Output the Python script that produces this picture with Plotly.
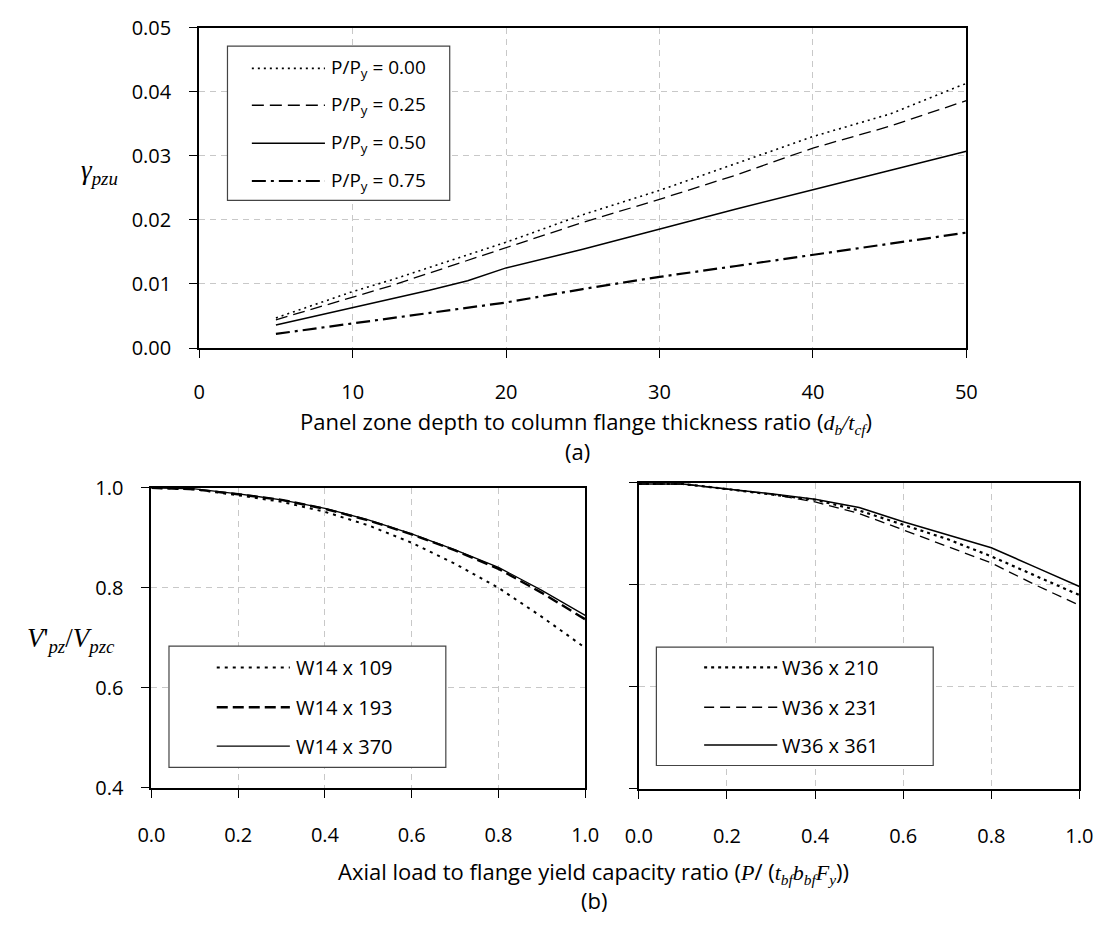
import plotly.graph_objects as go

W, H = 1110, 929

# ---------------- data: panel (a) ----------------
ratio_db_tcf = [5, 10, 12.5, 15, 17.5, 20, 25, 30, 35, 40, 45, 50]
gamma_p000 = [0.0047, 0.0088, 0.0106, 0.0126, 0.0146, 0.0165, 0.0208, 0.0246, 0.0288, 0.0330, 0.0365, 0.0413]
gamma_p025 = [0.0044, 0.0080, 0.0097, 0.0117, 0.0137, 0.0157, 0.0196, 0.0232, 0.0270, 0.0312, 0.0346, 0.0386]
gamma_p050 = [0.0036, 0.0063, 0.0077, 0.0090, 0.0105, 0.0125, 0.0154, 0.0186, 0.0217, 0.0247, 0.0277, 0.0307]
gamma_p075 = [0.0022, 0.0038, 0.0046, 0.0055, 0.0062, 0.0071, 0.0092, 0.0111, 0.0128, 0.0145, 0.0163, 0.0180]
labels_a = ["P/P<sub>y</sub> = 0.00", "P/P<sub>y</sub> = 0.25",
            "P/P<sub>y</sub> = 0.50", "P/P<sub>y</sub> = 0.75"]

# ---------------- data: panel (b) ----------------
axial_ratio = [0.0, 0.1, 0.2, 0.3, 0.4, 0.5, 0.6, 0.7, 0.8, 0.9, 1.0]
w14x109 = [1.000, 0.997, 0.985, 0.972, 0.952, 0.925, 0.890, 0.848, 0.800, 0.742, 0.680]
w14x193 = [1.000, 0.997, 0.987, 0.976, 0.958, 0.935, 0.907, 0.875, 0.838, 0.790, 0.737]
w14x370 = [1.000, 0.998, 0.988, 0.976, 0.959, 0.936, 0.908, 0.876, 0.841, 0.795, 0.745]
w36x210 = [0.998, 0.998, 0.988, 0.978, 0.967, 0.946, 0.918, 0.890, 0.856, 0.818, 0.780]
w36x231 = [0.998, 0.998, 0.988, 0.978, 0.963, 0.940, 0.908, 0.876, 0.843, 0.800, 0.760]
w36x361 = [0.998, 0.998, 0.988, 0.979, 0.968, 0.952, 0.924, 0.898, 0.873, 0.835, 0.797]
labels_b_left = ["W14 x 109", "W14 x 193", "W14 x 370"]
labels_b_right = ["W36 x 210", "W36 x 231", "W36 x 361"]

ticks_a_x = [0, 10, 20, 30, 40, 50]
ticks_a_y = [0.00, 0.01, 0.02, 0.03, 0.04, 0.05]
ticks_b_x = [0.0, 0.2, 0.4, 0.6, 0.8, 1.0]
ticks_b_y = [0.4, 0.6, 0.8, 1.0]

FONT = "Open Sans"
SERIF = "Liberation Serif"

# line styles (dash, width)
sty_a = [("2px,4px", 1.6), ("12px,6px", 1.3), ("solid", 1.5), ("14px,5px,3px,5px", 2.2)]
sty_bl = [("3px,5px", 2.0), ("11px,5px", 2.4), ("solid", 1.3)]
sty_br = [("3px,4px", 2.2), ("10px,6px", 1.3), ("solid", 1.5)]


def px(x):
    return x / W


def py(y):
    return 1 - y / H


fig = go.Figure()

for ys, (dash, wd), name in zip([gamma_p000, gamma_p025, gamma_p050, gamma_p075], sty_a, labels_a):
    fig.add_trace(go.Scatter(x=ratio_db_tcf, y=ys, mode="lines", name=name,
                             line=dict(color="black", width=wd, dash=dash),
                             xaxis="x", yaxis="y", showlegend=False))

for ys, (dash, wd), name in zip([w14x109, w14x193, w14x370], sty_bl, labels_b_left):
    fig.add_trace(go.Scatter(x=axial_ratio, y=ys, mode="lines", name=name,
                             line=dict(color="black", width=wd, dash=dash),
                             xaxis="x2", yaxis="y2", showlegend=False))

for ys, (dash, wd), name in zip([w36x210, w36x231, w36x361], sty_br, labels_b_right):
    fig.add_trace(go.Scatter(x=axial_ratio, y=ys, mode="lines", name=name,
                             line=dict(color="black", width=wd, dash=dash),
                             xaxis="x3", yaxis="y3", showlegend=False))

grid = dict(showgrid=True, gridcolor="#c8c8c8", gridwidth=1, griddash="6px,5px",
            showline=True, linecolor="black", linewidth=2, mirror=True,
            ticks="outside", ticklen=8, tickwidth=1, tickcolor="black",
            zeroline=False, tickfont=dict(family=FONT, size=20, color="black"))

layout = dict(
    width=W, height=H, margin=dict(l=0, r=0, t=0, b=0),
    paper_bgcolor="white", plot_bgcolor="white", showlegend=False,
    xaxis=dict(grid, domain=[px(190), px(977)], range=[0, 50], tickvals=ticks_a_x,
               anchor="y", ticklabelstandoff=17),
    yaxis=dict(grid, domain=[py(344), py(14)], range=[0, 0.05], tickvals=ticks_a_y,
               tickformat=".2f", anchor="x", ticklabelstandoff=14),
    xaxis2=dict(grid, domain=[px(141), px(586)], range=[0, 1], tickvals=ticks_b_x,
                tickformat=".1f", anchor="y2", ticklabelstandoff=20),
    yaxis2=dict(grid, domain=[py(797), py(488)], range=[0.4, 1.0], tickvals=ticks_b_y,
                tickformat=".1f", anchor="x2", ticklabelstandoff=14),
    xaxis3=dict(grid, domain=[px(641), px(1093)], range=[0, 1], tickvals=ticks_b_x,
                tickformat=".1f", anchor="y3", ticklabelstandoff=20),
    yaxis3=dict(grid, domain=[py(798), py(483)], range=[0.4, 1.0], tickvals=ticks_b_y,
                showticklabels=False, anchor="x3"),
)
fig.update_layout(**layout)

shapes = []
annos = []


def legend_box(x0, y0, x1, y1, rows, labels, styles, lx0, lx1, tx, size):
    shapes.append(dict(type="rect", xref="paper", yref="paper",
                       x0=px(x0), x1=px(x1), y0=py(y1), y1=py(y0),
                       line=dict(color="#444444", width=1.2), fillcolor="white", layer="above"))
    for yy, lab, (dash, wd) in zip(rows, labels, styles):
        shapes.append(dict(type="line", xref="paper", yref="paper",
                           x0=px(lx0), x1=px(lx1), y0=py(yy), y1=py(yy),
                           line=dict(color="black", width=wd, dash=dash), layer="above"))
        annos.append(dict(x=px(tx), y=py(yy), xref="paper", yref="paper", text=lab,
                          showarrow=False, xanchor="left", yanchor="middle",
                          font=dict(family=FONT, size=size, color="black")))


legend_box(219, 33, 447, 192, [56, 94, 133, 172], labels_a, sty_a, 244, 319, 323, 19)
legend_box(159, 651, 443, 776, [673, 714, 754], labels_b_left, sty_bl, 208, 283, 287, 20)
legend_box(659, 652, 943, 774, [673, 714, 753], labels_b_right, sty_br, 708, 783, 786, 20)


def text(x, y, s, size, family=FONT, xanchor="center"):
    annos.append(dict(x=px(x), y=py(y), xref="paper", yref="paper", text=s,
                      showarrow=False, xanchor=xanchor, yanchor="middle",
                      font=dict(family=family, size=size, color="black")))


serif_i = lambda s: f"<span style='font-family:{SERIF}'><i>{s}</i></span>"

text(88, 163, "<i>γ<sub>pzu</sub></i>", 27, family=SERIF)
text(587, 420, "Panel zone depth to column flange thickness ratio ("
     + serif_i("d<sub>b</sub>/t<sub>cf</sub>") + ")", 22)
text(578, 450, "(a)", 22)
text(58, 645, "<i>V</i>'<sub><i>pz</i></sub>/<i>V</i><sub><i>pzc</i></sub>", 27, family=SERIF)
text(595, 884, "Axial load to flange yield capacity ratio ("
     + serif_i("P") + "/ (" + serif_i("t<sub>bf</sub>b<sub>bf</sub>F<sub>y</sub>") + "))", 22)
text(595, 913, "(b)", 22)

fig.update_layout(shapes=shapes, annotations=annos)
fig.write_html("out.html")
